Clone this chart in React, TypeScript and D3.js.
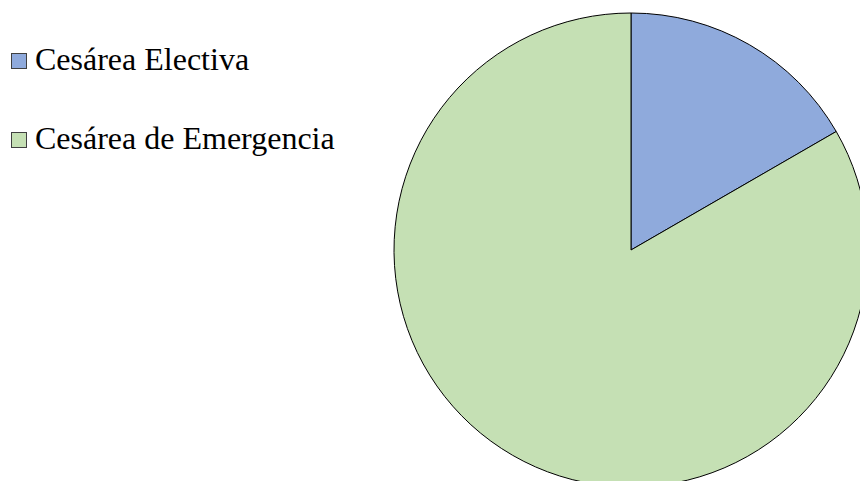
import * as d3 from "d3";
import { useEffect, useRef } from "react";

const WIDTH = 860;
const HEIGHT = 481;

const categories = ["Cesárea Electiva", "Cesárea de Emergencia"];
const values = [20, 100];
const colors = ["#8FAADC", "#C5E0B4"];

type Slice = { name: string; value: number; color: string };

export default function App() {
    const svgRef = useRef<SVGSVGElement | null>(null);

    useEffect(() => {
        if (!svgRef.current) return;
        const svg = d3.select(svgRef.current);
        svg.selectAll("*").remove();

        const data: Slice[] = categories.map((name, i) => ({ name, value: values[i], color: colors[i] }));

        const cx = 631;
        const cy = 250;
        const radius = 237;

        const pie = d3
            .pie<Slice>()
            .value((d) => d.value)
            .sort(null);
        const arc = d3.arc<d3.PieArcDatum<Slice>>().innerRadius(0).outerRadius(radius);

        const g = svg.append("g").attr("transform", `translate(${cx},${cy})`);
        g.selectAll("path")
            .data(pie(data))
            .enter()
            .append("path")
            .attr("d", arc)
            .attr("fill", (d) => d.data.color)
            .attr("stroke", "#000")
            .attr("stroke-width", 1);

        // legend, top-left
        const legend = svg.append("g").attr("transform", "translate(11,53)");
        const item = legend
            .selectAll("g")
            .data(data)
            .enter()
            .append("g")
            .attr("transform", (_, i) => `translate(0, ${i * 79})`);
        item.append("rect")
            .attr("x", 0.5)
            .attr("y", 0.5)
            .attr("width", 15)
            .attr("height", 15)
            .attr("fill", (d) => d.color)
            .attr("stroke", "#404040")
            .attr("stroke-width", 1);
        item.append("text")
            .attr("x", 24)
            .attr("y", 17)
            .style("font-family", '"Liberation Serif", "Times New Roman", Times, serif')
            .style("font-size", "32px")
            .attr("fill", "#000")
            .text((d) => d.name);

        return () => {
            svg.selectAll("*").remove();
        };
    }, []);

    return (
        <div style={{ position: "fixed", left: 0, top: 0, width: WIDTH, height: HEIGHT, background: "#fff" }}>
            <svg ref={svgRef} width={WIDTH} height={HEIGHT} style={{ display: "block" }} />
        </div>
    );
}
